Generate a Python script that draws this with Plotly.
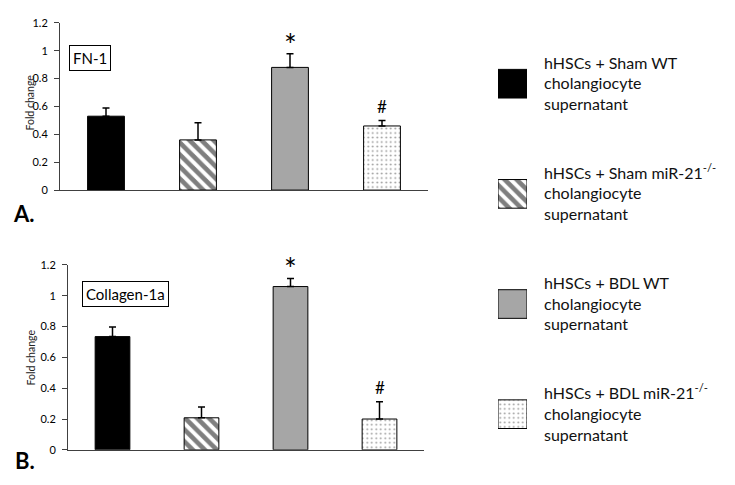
import plotly.graph_objects as go

groups = ["hHSCs + Sham WT", "hHSCs + Sham miR-21-/-",
          "hHSCs + BDL WT", "hHSCs + BDL miR-21-/-"]
legend_labels = ["hHSCs + Sham WT<br>cholangiocyte<br>supernatant",
                 "hHSCs + Sham miR-21<sup>-/-</sup><br>cholangiocyte<br>supernatant",
                 "hHSCs + BDL WT<br>cholangiocyte<br>supernatant",
                 "hHSCs + BDL miR-21<sup>-/-</sup><br>cholangiocyte<br>supernatant"]

fn1_mean = [0.53, 0.36, 0.88, 0.46]
fn1_err = [0.058, 0.123, 0.098, 0.04]
col_mean = [0.735, 0.208, 1.06, 0.20]
col_err = [0.063, 0.07, 0.053, 0.112]
sig_marks = ["", "", "*", "#"]

# bar styles per group
fills = ["black", "white", "#a6a6a6", "white"]
shapes = ["", "\\", "", "."]
pat_size = [8, 8.5, 8, 4.5]
pat_solid = [0.3, 0.55, 0.3, 0.14]
pat_fg = ["black", "black", "black", "#333333"]

FONT = "Lato"
# page body keeps an 8px margin, so the figure is a bit smaller than the window
OFF = 8
W, H = 727, 477


def px_x(a, b):
    return [(a - OFF) / W, (b - OFF) / W]


def px_y(top, bottom):
    return [1 - (bottom - OFF) / H, 1 - (top - OFF) / H]


def pt(x, y):
    return (x - OFF) / W, 1 - (y - OFF) / H


def marker_for(i):
    m = dict(color=fills[i], line=dict(color="black", width=1))
    if shapes[i]:
        m["pattern"] = dict(shape=shapes[i], size=pat_size[i],
                            solidity=pat_solid[i], fgcolor=pat_fg[i])
    return m


fig = go.Figure()

panels = [("x", "y", fn1_mean, fn1_err, 0.4),
          ("x2", "y2", col_mean, col_err, 0.39)]
for xa, ya, mean, err, bw in panels:
    for i, g in enumerate(groups):
        fig.add_trace(go.Bar(
            x=[g], y=[mean[i]], xaxis=xa, yaxis=ya, width=bw,
            marker=marker_for(i),
            error_y=dict(type="data", symmetric=False, array=[err[i]],
                         arrayminus=[0], color="black",
                         thickness=1.5, width=3.5),
            showlegend=False, hoverinfo="skip"))
        s = sig_marks[i]
        if s:
            fig.add_annotation(x=g, y=mean[i] + err[i], xref=xa, yref=ya, text=s,
                               showarrow=False, xanchor="center", yanchor="middle",
                               yshift=10 if s == "*" else 14,
                               font=dict(family=FONT, size=30 if s == "*" else 17,
                                         color="black"))

# legend drawn as swatch bars with labels on a hidden axis
for i, lab in enumerate(legend_labels):
    fig.add_trace(go.Bar(
        x=[1], y=[lab], orientation="h", xaxis="x3", yaxis="y3",
        width=0.26, cliponaxis=False, marker=marker_for(i),
        showlegend=False, hoverinfo="skip"))

yax = dict(range=[0, 1.2], dtick=0.2, showgrid=False, zeroline=False,
           showline=True, linecolor="#404040", linewidth=1,
           ticks="outside", ticklen=5, tickcolor="#404040",
           ticklabelstandoff=4,
           tickfont=dict(family=FONT, size=11, color="black"))
xax = dict(showticklabels=False, showgrid=False, zeroline=False,
           showline=True, linecolor="#404040", linewidth=1, ticks="",
           categoryorder="array", categoryarray=groups)

fig.update_layout(
    width=W, height=H, autosize=False, barmode="overlay",
    margin=dict(l=0, r=0, t=0, b=0),
    paper_bgcolor="white", plot_bgcolor="white",
    xaxis=dict(xax, domain=px_x(60, 428), anchor="y"),
    yaxis=dict(yax, domain=px_y(16, 188), anchor="x"),
    xaxis2=dict(xax, domain=px_x(68, 424), anchor="y2"),
    yaxis2=dict(yax, domain=px_y(265, 455), anchor="x2"),
    xaxis3=dict(domain=px_x(498, 527), range=[0, 1], visible=False, anchor="y3"),
    yaxis3=dict(domain=px_y(22, 475), anchor="x3", autorange="reversed",
                side="right", showgrid=False, zeroline=False, showline=False,
                ticks="", ticklabelstandoff=16,
                categoryorder="array", categoryarray=legend_labels,
                tickfont=dict(family=FONT, size=16, color="#111111")),
)

# axis titles, panel labels
for txt, xc, yc in [("Fold change", 30, 98), ("Fold change", 31, 360)]:
    px, py = pt(xc, yc)
    fig.add_annotation(x=px, y=py, xref="paper", yref="paper",
                       xanchor="center", yanchor="middle",
                       text=txt, textangle=-90, showarrow=False,
                       font=dict(family=FONT, size=10.5, color="#222222"))

for txt, xc, yc in [("FN-1", 90, 52), ("Collagen-1a", 126, 295)]:
    px, py = pt(xc, yc)
    fig.add_annotation(x=px, y=py, xref="paper", yref="paper",
                       xanchor="center", yanchor="middle",
                       text=txt, showarrow=False, bordercolor="black",
                       borderwidth=1, borderpad=3, bgcolor="white",
                       font=dict(family=FONT, size=15, color="black"))

for txt, xc, yc in [("A.", 24, 212), ("B.", 25, 466)]:
    px, py = pt(xc, yc)
    fig.add_annotation(x=px, y=py, xref="paper", yref="paper",
                       xanchor="center", yanchor="middle",
                       text="<b>" + txt + "</b>", showarrow=False,
                       font=dict(family=FONT, size=22, color="black"))

fig.write_html("out.html")
